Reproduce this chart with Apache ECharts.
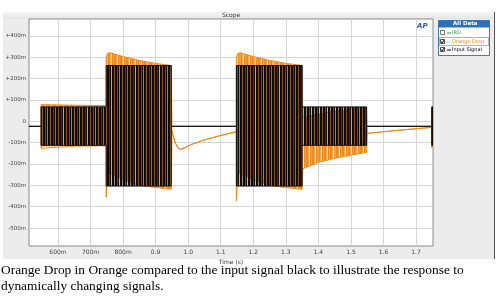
<!DOCTYPE html>
<html>
<head>
<meta charset="utf-8">
<script src="https://cdn.jsdelivr.net/npm/echarts@6/dist/echarts.min.js"></script>
<style>
  body { margin: 0; background: #fff; }
  #wrap { position: relative; width: 500px; height: 297px; overflow: hidden; }
  #panel { position: absolute; left: 3px; top: 12px; width: 491px; height: 247px; background: #ececec; border-right: 1px solid #555; }
  #titlebar { position: absolute; left: 3px; top: 12px; width: 491px; height: 7px; background: linear-gradient(#f6f6f6, #e4e4e4); }
  #chart { position: absolute; left: 0; top: 0; width: 500px; height: 297px; }
  #caption { position: absolute; left: 1px; top: 262px; width: 499px; font-family: "Liberation Serif", serif; font-size: 13.4px; line-height: 16px; color: #000; }
</style>
</head>
<body>
<div id="wrap">
  <div id="panel"></div>
  <div id="titlebar"></div>
  <div id="chart"></div>
  <div id="caption">Orange Drop in Orange compared to the input signal black to illustrate the response to dynamically changing signals.</div>
</div>
<script>
// tick labels
const xTicks = [0.6, 0.7, 0.8, 0.9, 1.0, 1.1, 1.2, 1.3, 1.4, 1.5, 1.6, 1.7]
const xTickLabels = ['600m', '700m', '800m', '0.9', '1.0', '1.1', '1.2', '1.3', '1.4', '1.5', '1.6', '1.7']
const yTicks = [0.4, 0.3, 0.2, 0.1, 0, -0.1, -0.2, -0.3, -0.4, -0.5]
const yTickLabels = ['+400m', '+300m', '+200m', '+100m', '0', '-100m', '-200m', '-300m', '-400m', '-500m']

// Input Signal (black) envelope, seconds / volts
const blackT  = [0.511, 0.548, 0.548, 0.748, 0.748, 0.948, 0.948, 1.148, 1.148, 1.350, 1.350, 1.548, 1.548, 1.748, 1.748, 1.752]
const blackHi = [-0.023, -0.023, 0.068, 0.068, 0.262, 0.262, -0.023, -0.023, 0.262, 0.262, 0.068, 0.068, -0.023, -0.023, 0.068, 0.068]
const blackLo = [-0.023, -0.023, -0.112, -0.112, -0.303, -0.303, -0.023, -0.023, -0.303, -0.303, -0.112, -0.112, -0.023, -0.023, -0.112, -0.112]

// Orange Drop envelope
const orangeT  = [0.511, 0.548, 0.548, 0.552, 0.650, 0.748, 0.748, 0.752, 0.760, 0.800, 0.850, 0.900, 0.948,
                  0.950, 0.960, 0.970, 0.977, 0.990, 1.010, 1.040, 1.070, 1.100, 1.130, 1.148,
                  1.148, 1.152, 1.160, 1.200, 1.250, 1.300, 1.350, 1.352, 1.400, 1.450, 1.500, 1.548,
                  1.550, 1.650, 1.748, 1.748, 1.752]
const orangeHi = [-0.024, -0.024, 0.078, 0.080, 0.076, 0.074, 0.300, 0.318, 0.322, 0.304, 0.286, 0.272, 0.262,
                  -0.045, -0.100, -0.127, -0.131, -0.123, -0.108, -0.092, -0.078, -0.066, -0.055, -0.048,
                  0.300, 0.318, 0.322, 0.304, 0.286, 0.272, 0.262, 0.020, 0.035, 0.048, 0.058, 0.066,
                  -0.056, -0.041, -0.028, 0.062, 0.062]
const orangeLo = [-0.024, -0.024, -0.126, -0.118, -0.116, -0.114, -0.355, -0.235, -0.245, -0.272, -0.300, -0.310, -0.318,
                  -0.045, -0.100, -0.127, -0.131, -0.123, -0.108, -0.092, -0.078, -0.066, -0.055, -0.048,
                  -0.372, -0.235, -0.245, -0.272, -0.300, -0.310, -0.318, -0.222, -0.192, -0.173, -0.158, -0.145,
                  -0.056, -0.041, -0.028, -0.125, -0.120]

function stripes(colors) {
    const c = document.createElement('canvas')
    c.width = colors.length
    c.height = 1
    const ctx = c.getContext('2d')
    colors.forEach((col, i) => {
        ctx.fillStyle = col
        ctx.fillRect(i, 0, 1, 1)
    })
    return {image: c, repeat: 'repeat'}
}

const blackFill = stripes(['#140a02', '#140a02', 'rgba(20,10,2,0.45)', '#140a02', '#140a02', 'rgba(20,10,2,0.7)', '#140a02', 'rgba(20,10,2,0.25)'])
const orangeFill = stripes(['#ef8a1e', '#ef8a1e', '#f5a852', '#fcdcb4', '#ef8a1e', '#f3a04a'])

function segments(t, hi, lo) {
    const out = []
    for (let i = 0; i < t.length - 1; i++) {
        out.push([t[i], t[i + 1], hi[i], hi[i + 1], lo[i], lo[i + 1]])
    }
    return out
}

function bandSeries(name, data, fill, z) {
    return {
        name: name,
        type: 'custom',
        z: z,
        silent: true,
        clip: true,
        encode: {x: [0, 1], y: [2, 3, 4, 5]},
        data: data,
        renderItem: (params, api) => {
            const p1 = api.coord([api.value(0), api.value(2)])
            const p2 = api.coord([api.value(1), api.value(3)])
            const p3 = api.coord([api.value(1), api.value(5)])
            const p4 = api.coord([api.value(0), api.value(4)])
            return {type: 'polygon', shape: {points: [p1, p2, p3, p4]}, style: {fill: fill}}
        }
    }
}

function edgeSeries(name, t, v, color, z) {
    return {
        name: name,
        type: 'line',
        z: z,
        silent: true,
        showSymbol: false,
        data: t.map((x, i) => [x, v[i]]),
        lineStyle: {color: color, width: 1}
    }
}

function pick(ticks, labels, v) {
    const i = ticks.findIndex(t => Math.abs(t - v) < 1e-6)
    return i < 0 ? '' : labels[i]
}

const chart = echarts.init(document.getElementById('chart'), null, {renderer: 'canvas'})

const option = {
    animation: false,
    backgroundColor: 'transparent',
    textStyle: {fontFamily: 'DejaVu Sans'},
    grid: {
        left: 29, right: 67, top: 19, bottom: 51,
        outerBoundsMode: 'none', containLabel: false,
        show: true, backgroundColor: '#fff', borderColor: '#8a8a8a', borderWidth: 1
    },
    xAxis: {
        type: 'value',
        min: 0.511,
        max: 1.752,
        name: 'Time (s)',
        nameLocation: 'middle',
        nameGap: 10,
        nameTextStyle: {fontSize: 6, color: '#333'},
        axisLine: {show: false},
        axisTick: {show: false, customValues: xTicks},
        axisLabel: {fontSize: 6, color: '#444', margin: 3, customValues: xTicks, formatter: v => pick(xTicks, xTickLabels, v)},
        splitLine: {show: true, lineStyle: {color: '#d6d6d6', width: 1}}
    },
    yAxis: {
        type: 'value',
        min: -0.584,
        max: 0.48,
        name: 'Instantaneous Level (V)',
        nameLocation: 'middle',
        nameGap: 21,
        nameTextStyle: {fontSize: 6, color: '#333'},
        axisLine: {show: false},
        axisTick: {show: false, customValues: yTicks},
        axisLabel: {fontSize: 5.5, color: '#444', margin: 3, customValues: yTicks, formatter: v => pick(yTicks, yTickLabels, v)},
        splitLine: {show: true, lineStyle: {color: '#d6d6d6', width: 1}}
    },
    graphic: [
        {type: 'text', left: 222, top: 12, style: {text: 'Scope', fontSize: 6, fill: '#333', fontFamily: 'DejaVu Sans'}},
        {type: 'text', left: 417, top: 23, style: {text: 'AP', fontSize: 7, fontWeight: 'bold', fontStyle: 'italic', fill: '#2a63b0', fontFamily: 'DejaVu Sans'}},
        {type: 'rect', shape: {x: 438.5, y: 20.5, width: 51, height: 35}, style: {fill: '#fff', stroke: '#4a78b0', lineWidth: 1}},
        {type: 'rect', shape: {x: 438.5, y: 20.5, width: 51, height: 7}, style: {fill: '#2e6fb7'}},
        {type: 'text', left: 453, top: 21, style: {text: 'All Data', fontSize: 5.5, fontWeight: 'bold', fill: '#fff', fontFamily: 'DejaVu Sans'}},
        // IRO
        {type: 'rect', shape: {x: 440.5, y: 30.5, width: 4, height: 4}, style: {fill: '#fff', stroke: '#777', lineWidth: 1}},
        {type: 'line', shape: {x1: 447, y1: 33, x2: 451, y2: 33}, style: {stroke: '#3a9a3a', lineWidth: 1}},
        {type: 'text', left: 452, top: 30, style: {text: 'IRO', fontSize: 5, fill: '#3a9a3a', fontFamily: 'DejaVu Sans'}},
        // Orange Drop
        {type: 'rect', shape: {x: 439.5, y: 37.5, width: 49, height: 8}, style: {fill: 'none', stroke: '#444', lineWidth: 0.8, lineDash: [1, 1]}},
        {type: 'rect', shape: {x: 440.5, y: 39.5, width: 4, height: 4}, style: {fill: '#fff', stroke: '#555', lineWidth: 1}},
        {type: 'polyline', shape: {points: [[441, 41.5], [442.3, 43], [444.3, 39.6]]}, style: {stroke: '#000', lineWidth: 1, fill: 'none'}},
        {type: 'line', shape: {x1: 447, y1: 42, x2: 451, y2: 42}, style: {stroke: '#ef8a1e', lineWidth: 1, lineDash: [1, 1]}},
        {type: 'text', left: 452, top: 39, style: {text: 'Orange Drop', fontSize: 5, fill: '#ef8a1e', fontFamily: 'DejaVu Sans'}},
        // Input Signal
        {type: 'rect', shape: {x: 440.5, y: 47.5, width: 4, height: 4}, style: {fill: '#fff', stroke: '#555', lineWidth: 1}},
        {type: 'polyline', shape: {points: [[441, 49.5], [442.3, 51], [444.3, 47.6]]}, style: {stroke: '#000', lineWidth: 1, fill: 'none'}},
        {type: 'line', shape: {x1: 447, y1: 50, x2: 451, y2: 50}, style: {stroke: '#000', lineWidth: 1}},
        {type: 'text', left: 452, top: 47, style: {text: 'Input Signal', fontSize: 5, fill: '#000', fontFamily: 'DejaVu Sans'}}
    ],
    series: [
        bandSeries('Orange Drop', segments(orangeT, orangeHi, orangeLo), orangeFill, 2),
        edgeSeries('Orange Drop hi', orangeT, orangeHi, '#ef8a1e', 3),
        edgeSeries('Orange Drop lo', orangeT, orangeLo, '#ef8a1e', 3),
        bandSeries('Input Signal', segments(blackT, blackHi, blackLo), blackFill, 4),
        edgeSeries('Input Signal hi', blackT, blackHi, '#111', 5),
        edgeSeries('Input Signal lo', blackT, blackLo, '#111', 5)
    ]
}

chart.setOption(option)
</script>
</body>
</html>
